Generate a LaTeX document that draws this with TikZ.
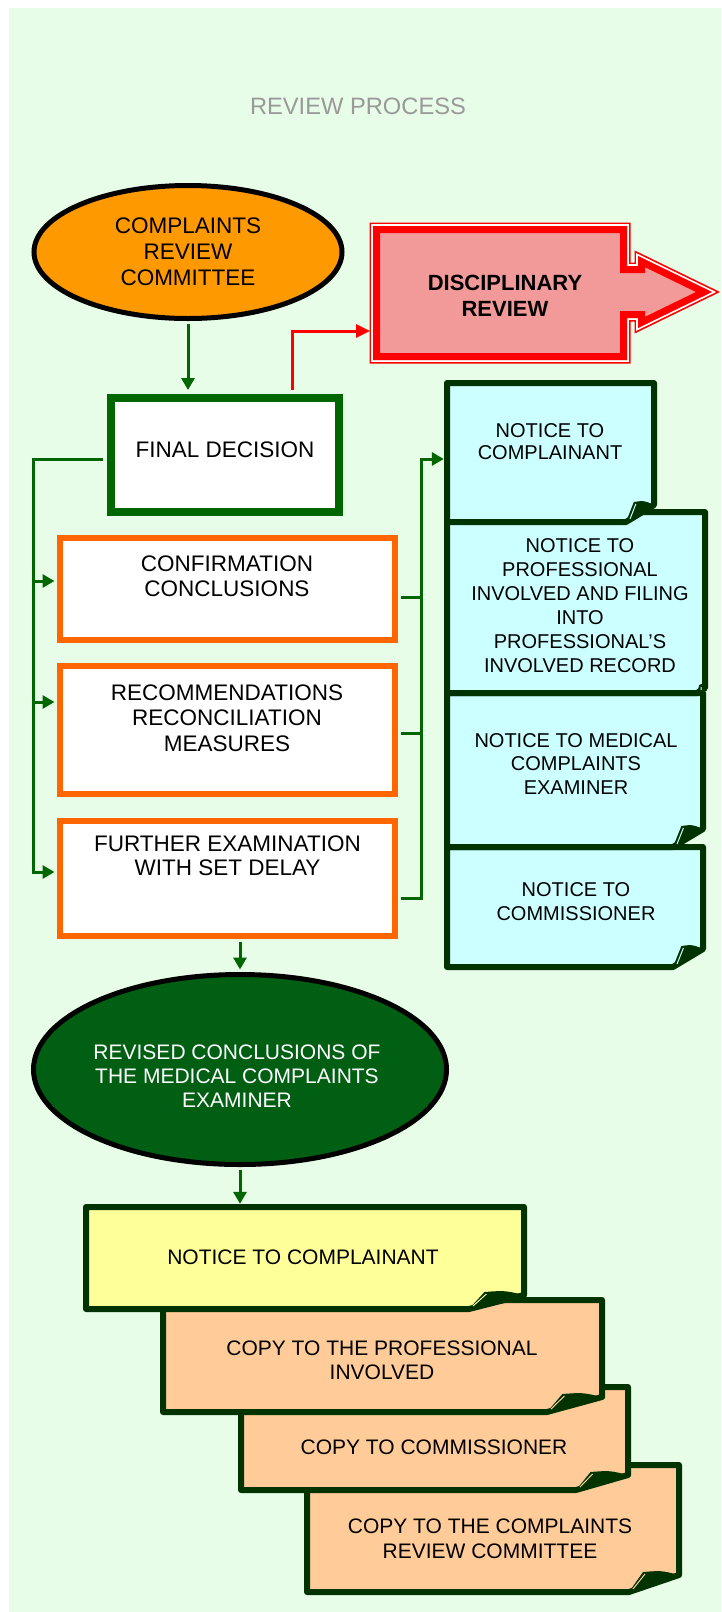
\documentclass[tikz,border=0pt]{standalone}
\usepackage{fontspec}
\setmainfont{Liberation Sans}
\usetikzlibrary{shapes.geometric, arrows.meta, calc}
\definecolor{bg}{HTML}{E8FDE8}
\definecolor{gline}{HTML}{006600}
\definecolor{dkg}{HTML}{003300}
\definecolor{orb}{HTML}{FF6600}
\definecolor{crcfill}{HTML}{FF9900}
\definecolor{revfill}{HTML}{005F12}
\definecolor{cyanf}{HTML}{CCFFFF}
\definecolor{yel}{HTML}{FFFF99}
\definecolor{peach}{HTML}{FFCC99}
\definecolor{pinkf}{HTML}{F29A9A}
\definecolor{titlegray}{HTML}{999999}
\newcommand\fsz[2]{\fontsize{#1}{#2}\selectfont}
% name x1 y1 x2 y2 fx fy fill
\newcommand\foldbox[8]{%
  \node[inner sep=0pt, minimum width={#4-#2}, minimum height={#5-#3}] (#1) at ({(#2+#4)/2},{(#3+#5)/2}) {};
  \filldraw[fill=#8, draw=dkg, line width=6pt, line join=round] (#2,#3) -- (#4,#3) -- (#4,{#5-#7}) -- ({#4-#6},#5) -- (#2,#5) -- cycle;
  \fill[dkg] ({#4-#6},#5) -- ({#4-0.72*#6},{#5-#7-3}) .. controls ({#4-0.35*#6},{#5-#7-4.5}) .. (#4,{#5-#7}) -- cycle;
  \draw[#8, line width=1pt] ({#4-#6+4},{#5-3}) -- ({#4-0.72*#6+2},{#5-#7-1});
}
\begin{document}
\begin{tikzpicture}[x=1pt, y=-1pt,
  txt/.style={align=center, inner sep=0pt, font=\fsz{22.5}{25.5}},
  ntxt/.style={align=center, inner sep=0pt, font=\fsz{20}{23.5}},
  btxt/.style={align=center, inner sep=0pt, font=\fsz{21}{24.5}},
  gconn/.style={draw=gline, line width=3pt},
  garrow/.style={gconn, -{Triangle[length=12pt,width=13pt]}},
  rarrow/.style={draw=red, line width=3pt, -{Triangle[length=14pt,width=13pt]}},
  fdbox/.style={rectangle, draw=gline, fill=white, line width=8pt, inner sep=0pt},
  obox/.style={rectangle, draw=orb, fill=white, line width=5.5pt, inner sep=0pt, minimum width=335pt},
  ell/.style={ellipse, draw=black, line width=5pt, inner sep=0pt},
]
\fill[white] (0,0) rectangle (721,1612);
\fill[bg] (9,8) rectangle (721,1612);
\useasboundingbox (0,0) rectangle (721,1612);

% title
\node[font=\fsz{23.7}{26}, text=titlegray, inner sep=0pt] (title) at (358,106) {REVIEW PROCESS};

% committee
\node[ell, fill=crcfill, minimum width=308pt, minimum height=133pt, align=center, font=\fsz{22.5}{26}] (crc) at (188,252) {COMPLAINTS\\REVIEW\\COMMITTEE};

% final decision
\node[fdbox, minimum width=228pt, minimum height=114pt] (fd) at (225,455) {};
\node[txt] (fdt) at (225,450) {FINAL DECISION};

% disciplinary review
\def\discpath{(373,226) -- (627,226) -- (627,266) -- (638,266) -- (638,256) -- (712,292) -- (638,328) -- (638,318) -- (627,318) -- (627,360) -- (373,360) -- cycle}
\draw[red, line width=7pt, line join=miter] \discpath;
\draw[white, line width=3.6pt, line join=miter] \discpath;
\fill[pinkf] \discpath;
\begin{scope}
  \clip \discpath;
  \draw[red, line width=14pt, line join=miter] \discpath;
\end{scope}
\node[font=\bfseries\fsz{22}{26}, align=center, inner sep=0pt] (disc) at (505,296) {DISCIPLINARY\\REVIEW};
\coordinate (discw) at (370,331);

% orange boxes
\node[obox, minimum height=102pt] (conf) at (227.5,589) {};
\node[txt] (conft) at (227,576) {CONFIRMATION\\CONCLUSIONS};
\node[obox, minimum height=128pt] (rec) at (227.5,730) {};
\node[txt] (rect) at (227,718) {RECOMMENDATIONS\\RECONCILIATION\\MEASURES};
\node[obox, minimum height=115pt] (fur) at (227.5,878.5) {};
\node[txt, font=\fsz{22.5}{24}] (furt) at (227.5,856) {FURTHER EXAMINATION\\WITH SET DELAY};

% notice column
\foldbox{n4}{447}{847}{703}{967}{30}{18}{cyanf}
\node[ntxt] (n4t) at (576,901.5) {NOTICE TO\\COMMISSIONER};
\foldbox{n3}{447}{693}{703}{847}{30}{18}{cyanf}
\node[ntxt] (n3t) at (576,764) {NOTICE TO MEDICAL\\COMPLAINTS\\EXAMINER};
\foldbox{n2}{447}{512}{705}{693}{8}{5}{cyanf}
\node[ntxt, font=\fsz{20}{24}] (n2t) at (580,606) {NOTICE TO\\PROFESSIONAL\\INVOLVED AND FILING\\INTO\\PROFESSIONAL’S\\INVOLVED RECORD};
\foldbox{n1}{447}{383}{654}{522}{28}{17}{cyanf}
\node[ntxt, font=\fsz{20}{22}] (n1t) at (550,441.5) {NOTICE TO\\COMPLAINANT};

% revised conclusions
\node[ell, fill=revfill, minimum width=413pt, minimum height=190pt] (rev) at (240,1069.5) {};
\node[btxt, text=white, font=\fsz{21}{24}] (revt) at (237,1076) {REVISED CONCLUSIONS OF\\THE MEDICAL COMPLAINTS\\EXAMINER};

% bottom stack
\foldbox{yd}{307}{1465}{679}{1592}{50}{17}{peach}
\node[btxt] (ydt) at (490,1539) {COPY TO THE COMPLAINTS\\REVIEW COMMITTEE};
\foldbox{yc}{241}{1387}{628}{1490}{52}{15}{peach}
\node[btxt] (yct) at (434,1447) {COPY TO COMMISSIONER};
\foldbox{yb}{163}{1300}{602}{1412}{55}{15}{peach}
\node[btxt] (ybt) at (382,1360.5) {COPY TO THE PROFESSIONAL\\INVOLVED};
\foldbox{ya}{86}{1207}{524}{1309}{55}{14}{yel}
\node[btxt] (yat) at (303,1257) {NOTICE TO COMPLAINANT};

% connectors
\draw[garrow, shorten <=2.5pt, shorten >=4pt] (crc.south) -- (crc.south |- fd.north);
\draw[rarrow, shorten <=4pt] ($(fd.north)+(67,0)$) |- (discw);

\coordinate (busL) at (33,459);
\coordinate (c-in) at ($(conf.west)+(0,-8)$);
\coordinate (r-in) at ($(rec.west)+(0,-28)$);
\coordinate (f-in) at ($(fur.west)+(0,-6.5)$);
\draw[garrow, shorten <=4pt, shorten >=2.75pt] ($(fd.west)+(0,4)$) -- (busL) |- (f-in);
\draw[garrow, shorten >=2.75pt] (busL |- c-in) -- (c-in);
\draw[garrow, shorten >=2.75pt] (busL |- r-in) -- (r-in);

\coordinate (busR) at (421,459);
\coordinate (c-out) at ($(conf.east)+(0,8)$);
\coordinate (r-out) at ($(rec.east)+(0,3)$);
\coordinate (f-out) at ($(fur.east)+(0,19.5)$);
\coordinate (n1-in) at ($(n1.west)+(0,6.5)$);
\draw[gconn, shorten <=2.75pt] (c-out) -- (busR |- c-out);
\draw[gconn, shorten <=2.75pt] (r-out) -- (busR |- r-out);
\draw[garrow, shorten <=2.75pt, shorten >=3pt] (f-out) -| (busR) -- (n1-in);

\draw[garrow, shorten <=2.75pt, shorten >=2.5pt] (rev.north |- fur.south) -- (rev.north);
\draw[garrow, shorten <=2.5pt, shorten >=3pt] (rev.south) -- (rev.south |- ya.north);
\end{tikzpicture}
\end{document}
